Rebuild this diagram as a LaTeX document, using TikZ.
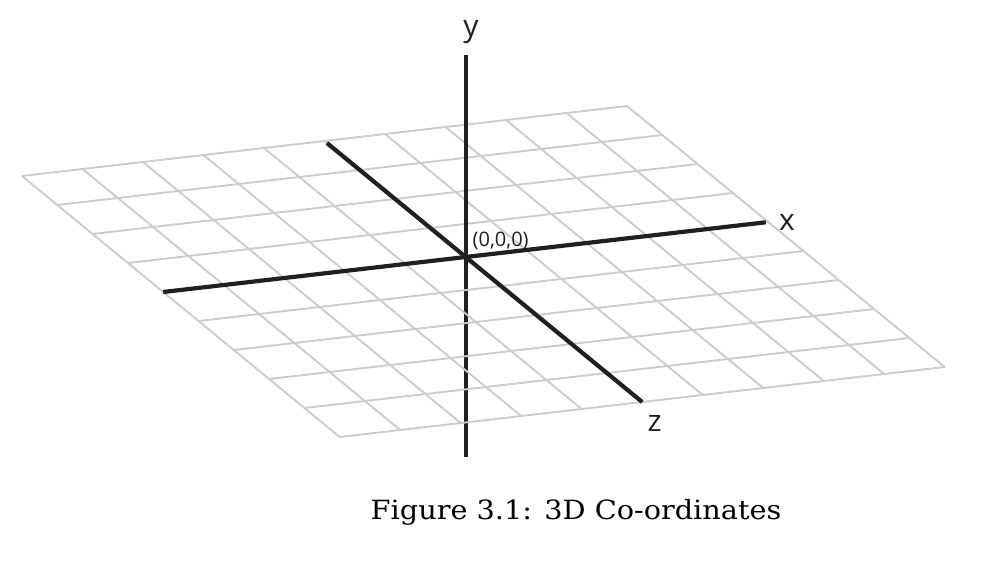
\documentclass[tikz,border=0pt]{standalone}
\usepackage{fontspec}
\setmainfont{DejaVu Serif}
\newfontfamily\labelfont{Open Sans}
\definecolor{gridgray}{RGB}{204,204,204}
\definecolor{axisblack}{RGB}{35,31,32}
\tikzset{
  gridline/.style={draw=gridgray, line width=1.9pt},
  axisline/.style={draw=axisblack, line width=4.2pt},
  axislabel/.style={font=\labelfont\fontsize{30}{30}\selectfont, text=axisblack, inner sep=0pt},
  originlabel/.style={font=\labelfont\fontsize{20}{20}\selectfont, text=axisblack, inner sep=0pt},
  captionlabel/.style={font=\fontsize{26.5}{26.5}\selectfont, text=black, inner sep=0pt, xscale=1.085}
}
\begin{document}
\begin{tikzpicture}[x=1pt,y=1pt]
\useasboundingbox (0,0) rectangle (986,-560);
\begin{scope}[shift={(22,-176)}, x={(60.5pt,7pt)}, y={(35.3pt,-29pt)}]
  \coordinate (O) at (5,4);
  \coordinate (xl) at (0,4);
  \coordinate (xr) at (9.96,4);
  \coordinate (zt) at (5,0.07);
  \coordinate (zb) at (5,9);
\end{scope}
\path (O) ++(0,202) coordinate (yt);
\path (O) ++(0,-200) coordinate (yb);
% lower part of y axis (below the plane)
\draw[axisline] (O) -- (yb);
% grid
\begin{scope}[shift={(22,-176)}, x={(60.5pt,7pt)}, y={(35.3pt,-29pt)}]
  \foreach \i in {0,...,10} \draw[gridline] (\i,0) -- (\i,9);
  \foreach \j in {0,...,9} \draw[gridline] (0,\j) -- (10,\j);
\end{scope}
% axes
\draw[axisline] (O) -- (yt);
\draw[axisline] (xl) -- (xr);
\draw[axisline] (zt) -- (zb);
% labels
\node[axislabel, anchor=base] (ylab) at (471,-36) {y};
\node[axislabel, anchor=base west] (xlab) at (779,-230) {x};
\node[axislabel, anchor=base west] (zlab) at (647.5,-431.5) {z};
\node[originlabel, anchor=base west] (olab) at (472.5,-246) {(0,0,0)};
\node[captionlabel, anchor=base west] (cap) at (370.5,-519.3) {Figure 3.1: 3D Co-ordinates};
\end{tikzpicture}
\end{document}
